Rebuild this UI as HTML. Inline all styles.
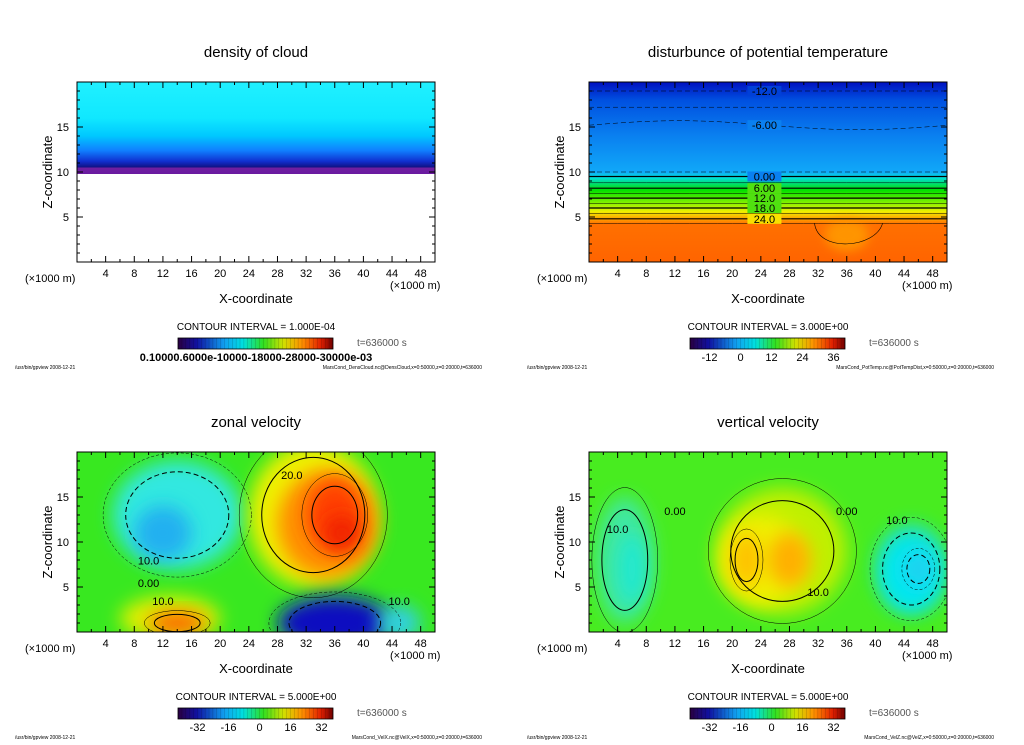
<!DOCTYPE html>
<html><head><meta charset="utf-8"><style>
body{margin:0;background:#fff;width:1024px;height:740px;overflow:hidden}
svg{font-family:"Liberation Sans",sans-serif}
</style></head><body>
<svg id="s" width="1024" height="740" xmlns="http://www.w3.org/2000/svg">
<defs>
<filter id="bl" x="-50%" y="-50%" width="200%" height="200%"><feGaussianBlur stdDeviation="9"/></filter>
<filter id="bl2" x="-50%" y="-50%" width="200%" height="200%"><feGaussianBlur stdDeviation="5"/></filter>
<linearGradient id="rb" x1="0" x2="1" y1="0" y2="0">
<stop offset="0" stop-color="#2a0040"/><stop offset="0.12" stop-color="#1010a0"/><stop offset="0.3" stop-color="#10a0f0"/><stop offset="0.42" stop-color="#00e0e0"/><stop offset="0.55" stop-color="#30e020"/><stop offset="0.68" stop-color="#d0e000"/><stop offset="0.8" stop-color="#ff9000"/><stop offset="0.92" stop-color="#e02000"/><stop offset="1" stop-color="#700000"/>
</linearGradient>
<linearGradient id="gCloud" x1="0" x2="0" y1="0" y2="1">
<stop offset="0" stop-color="#20f0ff"/><stop offset="0.2" stop-color="#10e8ff"/><stop offset="0.3" stop-color="#00c8ff"/><stop offset="0.38" stop-color="#1080ff"/><stop offset="0.44" stop-color="#1030d0"/><stop offset="0.475" stop-color="#101080"/><stop offset="0.476" stop-color="#7020a0"/><stop offset="0.51" stop-color="#6a1aa0"/><stop offset="0.511" stop-color="#fff"/><stop offset="1" stop-color="#fff"/>
</linearGradient>
<linearGradient id="gTemp" x1="0" x2="0" y1="0" y2="1">
<stop offset="0" stop-color="#0010c0"/><stop offset="0.1" stop-color="#0050e0"/><stop offset="0.3" stop-color="#0a80f0"/><stop offset="0.5" stop-color="#10a8f8"/><stop offset="0.53" stop-color="#00e0e0"/><stop offset="0.6" stop-color="#00e000"/><stop offset="0.67" stop-color="#80f000"/><stop offset="0.72" stop-color="#f0f000"/><stop offset="0.76" stop-color="#ffa000"/><stop offset="0.79" stop-color="#ff7000"/><stop offset="1" stop-color="#ff6400"/>
</linearGradient>
<clipPath id="c0"><rect x="77" y="82" width="358" height="180"/></clipPath>
<clipPath id="c1"><rect x="589" y="82" width="358" height="180"/></clipPath>
<clipPath id="c2"><rect x="77" y="452" width="358" height="180"/></clipPath>
<clipPath id="c3"><rect x="589" y="452" width="358" height="180"/></clipPath>
</defs>
</svg>
<script>
const xTicks=[4,8,12,16,20,24,28,32,36,40,44,48];
const zTicks=[5,10,15];
const titles=["density of cloud","disturbunce of potential temperature","zonal velocity","vertical velocity"];
const intervals=["1.000E-04","3.000E+00","5.000E+00","5.000E+00"];
const cbLabels=[["0.10000E-04","0.60000E-04","0.12000E-03","0.18000E-03","0.24000E-03","0.30000E-03"],["-12","0","12","24","36"],["-32","-16","0","16","32"],["-32","-16","0","16","32"]];
const footers=["MarsCond_DensCloud.nc@DensCloud,x=0:50000,z=0:20000,t=636000","MarsCond_PotTemp.nc@PotTempDist,x=0:50000,z=0:20000,t=636000","MarsCond_VelX.nc@VelX,x=0:50000,z=0:20000,t=636000","MarsCond_VelZ.nc@VelZ,x=0:50000,z=0:20000,t=636000"];
const zonalX=[14,12,33,35,36,37,36,13,14,45];
const zonalZ=[13,11,13,12,13,11,1,1.5,1,1];
const zonalRX=[9,4,9,7,4,2.5,8,7,4,3];
const zonalRZ=[6,3,8,6,4,2,3,2.5,1.2,2];
const zonalC=["#30e8e0","#20b0f0","#f0f000","#ff9000","#ff4000","#f02000","#1010c0","#e0f000","#ff6000","#30d0e0"];
const vertX=[5,6,27,24,22,28,45,45,46];
const vertZ=[8,7,9,8,8,8,7,6.5,7];
const vertRX=[4,2,9,6,2,3,5,4,2];
const vertRZ=[7,4,7,5,3,3,5,4,2];
const vertC=["#40e8a0","#20e8d0","#c0f000","#f0f000","#ffc000","#ffb000","#20e0c0","#00e8f0","#20d0f0"];
const tempLevels=[19,17.2,15.2,10,9.5,8.8,8.2,7.6,7.1,6.5,6.0,5.4,4.8,4.3];
const tempDash=[1,1,1,1,0,0,0,0,0,0,0,0,0,0];
const tempLabels=[["-12.0",19],["-6.00",15.2],["0.00",9.5],["6.00",8.2],["12.0",7.1],["18.0",6.0],["24.0",4.8]];

const S=document.getElementById('s');
const NS="http://www.w3.org/2000/svg";
function mk(tag,at,parent){const e=document.createElementNS(NS,tag);for(const k in at)e.setAttribute(k,at[k]);(parent||S).appendChild(e);return e;}
function txt(x,y,s,sz,anchor,parent){const t=mk('text',{x:x,y:y,'font-size':sz,'text-anchor':anchor||'middle',fill:'#000'},parent);t.textContent=s;return t;}

for(let p=0;p<4;p++){
  const ox=(p%2)*512, oy=p<2?0:370;
  const L=77+ox,T=82+oy,W=358,H=180;
  const sx=v=>L+v/50*W, sz=v=>T+H-v/20*H;
  const g=mk('g',{});
  
  
  const t=txt(256+ox,57+oy,titles[p],15,'middle',g);
  
  
  const area=mk('g',{'clip-path':'url(#c'+p+')'},g);
  
  
  if(p==0){ mk('rect',{x:L,y:T,width:W,height:H,fill:'url(#gCloud)'},area); }
  else if(p==1){
    mk('rect',{x:L,y:T,width:W,height:H,fill:'url(#gTemp)'},area);
    mk('ellipse',{cx:sx(36),cy:sz(3),rx:22,ry:16,fill:'#ff9400',filter:'url(#bl2)'},area);
    tempLevels.forEach((lv,i)=>{
      let d='';for(let x=0;x<=50;x+=2){const w=(lv>14&&lv<16)?Math.sin(x/8)*0.5:0;d+=(x?'L':'M')+sx(x)+','+sz(lv+w);}
      const pl=mk('path',{d:d,fill:'none',stroke:'#000','stroke-width':(i>=4&&i%2==0)?1.2:0.5,'stroke-dasharray':tempDash[i]?'5,3':'none'},area);
      
      
    });
    mk('path',{d:`M${sx(31.5)},${sz(4.3)} C${sx(32)},${sz(1)} ${sx(40)},${sz(1.5)} ${sx(41)},${sz(4.3)}`,fill:'none',stroke:'#000','stroke-width':0.6},area);
    tempLabels.forEach(l=>{
      const c=l[1]>9?'#10a8f8':'#60e000';
      mk('rect',{x:sx(24.5)-17,y:sz(l[1])-5,width:34,height:10,fill:l[1]>9?(l[1]>17?'#0040d8':'#0a80f0'):(l[1]<5?'#f8e000':(l[1]<9?'#50e010':c))},area);
      const tt=txt(sx(24.5),sz(l[1])+4,l[0],11,'middle',area);});
  } else {
    const X=p==2?zonalX:vertX,Z=p==2?zonalZ:vertZ,RX=p==2?zonalRX:vertRX,RZ=p==2?zonalRZ:vertRZ,C=p==2?zonalC:vertC;
    mk('rect',{x:L,y:T,width:W,height:H,fill:p==2?'#38e820':'#48ec20'},area);
    X.forEach((x,i)=>{const e=mk('ellipse',{cx:sx(x),cy:sz(Z[i]),rx:RX[i]/50*W,ry:RZ[i]/20*H,fill:C[i],filter:'url(#bl)'},area);
      });
    X.forEach((x,i)=>{if(i%2==0)mk('ellipse',{cx:sx(x),cy:sz(Z[i]),rx:RX[i]/50*W*0.8,ry:RZ[i]/20*H*0.8,fill:'none',stroke:'#000','stroke-width':1,'stroke-dasharray':(C[i].match(/^#[0-3]/)?'5,3':'none')},area);});
    X.forEach((x,i)=>{if(i%2==0)mk('ellipse',{cx:sx(x),cy:sz(Z[i]),rx:RX[i]/50*W*1.15,ry:RZ[i]/20*H*1.15,fill:'none',stroke:'#000','stroke-width':0.5,'stroke-dasharray':(C[i].match(/^#[0-3]/)?'3,2':'none')},area);});
    if(p==2){
      [["20.0",30,17],["10.0",10,7.5],["0.00",10,5],["10.0",12,3],["10.0",45,3]].forEach(l=>txt(sx(l[1]),sz(l[2]),l[0],11,'middle',area));}
    else{[["0.00",12,13],["0.00",36,13],["10.0",43,12],["10.0",32,4],["10.0",4,11]].forEach(l=>txt(sx(l[1]),sz(l[2]),l[0],11,'middle',area));}
  }
  const fr=mk('rect',{x:L,y:T,width:W,height:H,fill:'none',stroke:'#000','stroke-width':1},g);
  
  for(let x=2;x<50;x+=2){const len=x%4==0?6:3;mk('line',{x1:sx(x),x2:sx(x),y1:T+H,y2:T+H-len,stroke:'#000'},g);mk('line',{x1:sx(x),x2:sx(x),y1:T,y2:T+len,stroke:'#000'},g);}
  for(let z=1;z<20;z++){const len=z%5==0?6:3;mk('line',{x1:L,x2:L+len,y1:sz(z),y2:sz(z),stroke:'#000'},g);mk('line',{x1:L+W,x2:L+W-len,y1:sz(z),y2:sz(z),stroke:'#000'},g);}
  xTicks.forEach(v=>{const tt=txt(sx(v),T+H+15,String(v),11,'middle',g);});
  zTicks.forEach(v=>{const tt=txt(L-8,sz(v)+4,String(v),11,'end',g);});
  txt(25+ox,T+H+20,'(×1000 m)',11,'start',g);
  txt(390+ox,T+H+27,'(×1000 m)',11,'start',g);
  const xl=txt(256+ox,T+H+41,'X-coordinate',13,'middle',g);
  const yl=txt(0,0,'Z-coordinate',13,'middle',g);yl.setAttribute('transform',`translate(${52+ox},${T+90}) rotate(-90)`);
  
  txt(256+ox,T+H+68,'CONTOUR INTERVAL = '+intervals[p],10,'middle',g);
  const cb=mk('rect',{x:178+ox,y:T+H+76,width:155,height:11,fill:'url(#rb)',stroke:'#000','stroke-width':0.8},g);
  
  for(let i=1;i<40;i++)mk('line',{x1:178+ox+i*155/40,x2:178+ox+i*155/40,y1:T+H+76,y2:T+H+87,stroke:'#000','stroke-opacity':0.25,'stroke-width':0.5},g);
  const lab=cbLabels[p];
  if(p==0){txt(256,T+H+99,'0.10000.6000e-10000-18000-28000-30000e-03',11,'middle',g).setAttribute('font-weight','bold');}
  else lab.forEach((s,i)=>txt(178+ox+19.5+i*31,T+H+99,s,11,'middle',g));
  txt(357+ox,T+H+84,'t=636000 s',10,'start',g).setAttribute('fill','#555');
  txt(15+ox,T+H+107,'/usr/bin/gpview   2008-12-21',5,'start',g);
  txt(482+ox,T+H+107,footers[p],5,'end',g);
}
</script>
</body></html>
